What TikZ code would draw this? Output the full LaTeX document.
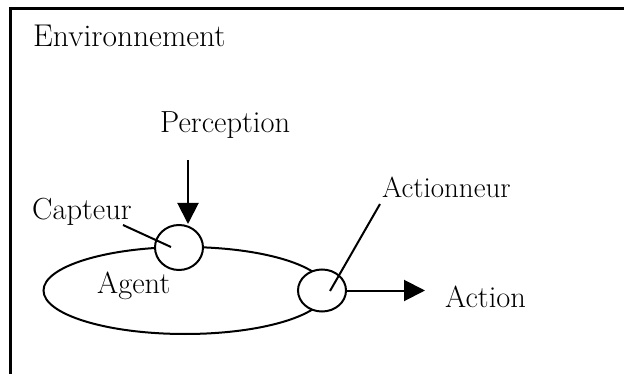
\documentclass[tikz,border=0pt]{standalone}
\usepackage{fontspec}
\usetikzlibrary{shapes.geometric,arrows.meta}
\begin{document}
\begin{tikzpicture}[x=1pt,y=-1pt,
  lbl/.style={anchor=base west,inner sep=0pt,font=\fontsize{30.5}{34}\selectfont},
  port/.style={draw,ellipse,line width=2pt,inner sep=0pt,fill=white},
  link/.style={line width=2pt},
  flow/.style={line width=2pt,-{Triangle[length=21pt,width=21pt]}}]
\useasboundingbox (0,0) rectangle (624,374);
% environment frame (top and left edges)
\draw[line width=2.5pt] (10.7,374) -- (10.7,8.7) -- (624,8.7);
\node[lbl,font=\fontsize{31.5}{35}\selectfont] (env) at (33,47) {Environnement};
% agent body
\node[draw,ellipse,line width=2pt,minimum width=283pt,minimum height=87pt,inner sep=0pt] (agent) at (185,290.5) {};
\node[lbl] (agentlbl) at (97,293) {Agent};
% sensor and actuator
\node[port,minimum width=48pt,minimum height=45pt] (capt) at (179,247.5) {};
\node[port,minimum width=48pt,minimum height=42pt] (actu) at (322,290.5) {};
% labels
\node[lbl] (perc) at (160,133) {Perception};
\node[lbl] (captlbl) at (32,220) {Capteur};
\node[lbl,font=\fontsize{29}{32}\selectfont] (actulbl) at (382,198) {Actionneur};
\node[lbl] (actionlbl) at (445,307) {Action};
% connector end points
\coordinate (pstart) at (188,160);
\coordinate (captlead) at (123,225);
\coordinate (captin) at (171,247);
\coordinate (actulead) at (380,204);
\coordinate (actuin) at (330,291);
\coordinate (acttip) at (425,290.5);
% leaders and flows
\draw[link] (captlead) -- (captin);
\draw[link] (actulead) -- (actuin);
\draw[flow] (pstart) -- (pstart |- capt.north);
\draw[flow] (actu.east) -- (acttip);
\end{tikzpicture}
\end{document}
